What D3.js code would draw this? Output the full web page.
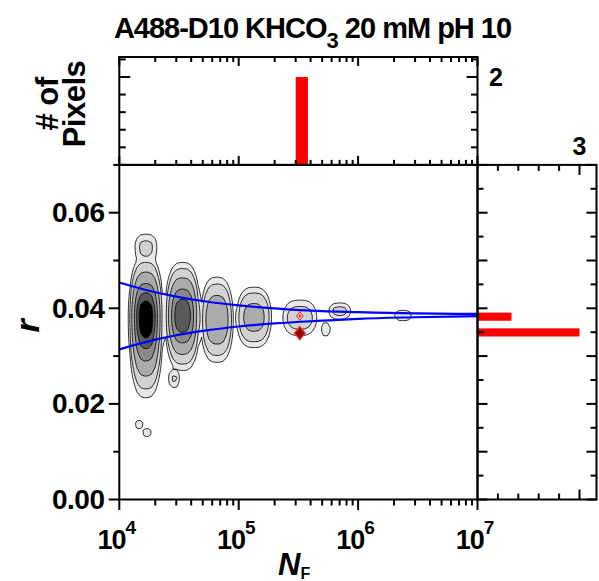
<!DOCTYPE html>
<html><head><meta charset="utf-8">
<script src="https://cdn.jsdelivr.net/npm/d3@7"></script>
<style>
body{margin:0;background:#fff}
svg{display:block}
text{font-family:"Liberation Sans",Arial,sans-serif;font-weight:bold;fill:#000}
</style>
</head><body>
<svg id="c" width="599" height="581"></svg>
<script>
// ---------------- data ----------------
const titleMain = "A488-D10 KHCO";
const titleSub = "3";
const titleRest = " 20 mM pH 10";
const xMajorTicks = [1e4, 1e5, 1e6, 1e7];
const xMajorExp = ["4", "5", "6", "7"];
const yMajorTicks = [0, 0.02, 0.04, 0.06];
const yMajorLabels = ["0.00", "0.02", "0.04", "0.06"];

// density components of the 2D histogram (log10 NF, r, half width in decades, half height up / down, peak level)
const compLogNF   = [4.223, 4.223, 4.530, 4.459, 4.818, 5.128, 5.512, 5.729, 5.846, 6.377, 4.167, 4.234];
const compR       = [0.0382, 0.0529, 0.0385, 0.0253, 0.0376, 0.0381, 0.0380, 0.0356, 0.0394, 0.0385, 0.0157, 0.0140];
const compHalfW   = [0.145, 0.092, 0.148, 0.046, 0.136, 0.146, 0.142, 0.040, 0.092, 0.071, 0.036, 0.036];
const compHalfUp  = [0.0128, 0.0026, 0.0111, 0.0019, 0.0089, 0.0063, 0.0037, 0.0014, 0.0017, 0.00110, 0.00090, 0.00090];
const compHalfDn  = [0.0169, 0.0042, 0.0115, 0.0019, 0.0089, 0.0063, 0.0037, 0.0014, 0.0017, 0.00110, 0.00090, 0.00090];
const compPeak    = [7.2, 1.7, 6.3, 1.6, 3.9, 3.2, 2.0, 1.3, 1.8, 1.3, 1.4, 1.4];
const levels      = [1, 1.5, 2.5, 4, 5.3, 6.3];
const levelColors = ["#e8e8e8", "#d2d2d2", "#ababab", "#8a8a8a", "#5a5a5a", "#000000"];

// selected pixels (red)
const selLogNF = [5.512, 5.512];
const selR     = [0.0384, 0.0348];
const selCount = [1, 3];
const selLevels = [0.5, 0.9, 1.6, 2.3];
const selColors = ["#f2a0a0", "#8b0000", "#6e0000", "#4a0000"];

// shot-noise bounds (blue)
const boundNF = [1e4, 2e4, 3e4, 5e4, 1e5, 2e5, 5e5, 1e6, 3e6, 1e7];
const upperR  = [0.04540, 0.04335, 0.04244, 0.04153, 0.04061, 0.03997, 0.03939, 0.03920, 0.03893, 0.03882];
const lowerR  = [0.03140, 0.03345, 0.03436, 0.03527, 0.03619, 0.03683, 0.03741, 0.03780, 0.03813, 0.03838];

// histograms
const topBinLo = [3.0e5];
const topBinHi = [3.8e5];
const topCount = [2];
const rightBinLo = [0.0374, 0.0341];
const rightBinHi = [0.0391, 0.0358];
const rightCount = [1, 3];

// ---------------- layout ----------------
const svg = d3.select("#c");
const X0 = 119.3, X1 = 477.5, Y0 = 499.5, YT = 164.9, TOP0 = 57, XR1 = 596.5;
const x = d3.scaleLog().domain([1e4, 1e7]).range([X0, X1]);
const y = d3.scaleLinear().domain([0, 0.07]).range([Y0, YT]);
const yTop = d3.scaleLinear().domain([0, 2.455]).range([YT, TOP0]);
const xR = d3.scaleLinear().domain([0, 3.5]).range([X1, XR1]);

const defs = svg.append("defs");
defs.append("clipPath").attr("id", "clipMain").append("rect")
  .attr("x", X0).attr("y", YT).attr("width", X1 - X0).attr("height", Y0 - YT);

// ---------------- density contours ----------------
const uMin = 3.97, du = 0.03, nx = 103, rMin = 0, dr = 0.0008, ny = 90;
const grid = new Float64Array(nx * ny);
for (let j = 0; j < ny; j++) {
  const r = rMin + j * dr;
  for (let i = 0; i < nx; i++) {
    const u = uMin + i * du;
    let v = 0;
    for (let k = 0; k < compLogNF.length; k++) {
      const a = Math.abs(u - compLogNF[k]) / compHalfW[k];
      const dd = r - compR[k];
      const b = dd / (dd > 0 ? compHalfUp[k] : compHalfDn[k]);
      const rho2 = a * a * a + b * b;
      const val = Math.exp(Math.log(compPeak[k]) * (1 - rho2));
      if (val > v) v = val;
    }
    grid[j * nx + i] = v;
  }
}
const projMain = d3.geoTransform({
  point(px, py) { this.stream.point(x(Math.pow(10, uMin + (px - 0.5) * du)), y(rMin + (py - 0.5) * dr)); }
});
const pathMain = d3.geoPath(projMain);
const contours = d3.contours().size([nx, ny]).thresholds(levels)(grid);
const gMain = svg.append("g").attr("clip-path", "url(#clipMain)");
gMain.selectAll("path.ct").data(contours).join("path")
  .attr("class", "ct")
  .attr("d", pathMain)
  .attr("fill", (d, i) => levelColors[i])
  .attr("stroke", "#000").attr("stroke-width", 0.8).attr("stroke-linejoin", "round");

// ---------------- selected (red) contours ----------------
const sdu = 0.058, sdr = 0.0018, snx = 9, sny = 11;
const su0 = 5.512 - 4 * sdu, sr0 = 0.0348 - 4 * sdr;
const sgrid = new Float64Array(snx * sny);
for (let k = 0; k < selCount.length; k++) {
  const i = Math.round((selLogNF[k] - su0) / sdu);
  const j = Math.round((selR[k] - sr0) / sdr);
  sgrid[j * snx + i] += selCount[k];
}
const projSel = d3.geoTransform({
  point(px, py) { this.stream.point(x(Math.pow(10, su0 + (px - 0.5) * sdu)), y(sr0 + (py - 0.5) * sdr)); }
});
const selContours = d3.contours().size([snx, sny]).thresholds(selLevels)(sgrid);
gMain.selectAll("path.sel").data(selContours).join("path")
  .attr("class", "sel")
  .attr("d", d3.geoPath(projSel))
  .attr("fill", (d, i) => selColors[i])
  .attr("stroke", "#e01010").attr("stroke-width", 0.7);

// ---------------- blue bounds ----------------
const line = d3.line().x(d => x(d[0])).y(d => y(d[1])).curve(d3.curveMonotoneX);
[upperR, lowerR].forEach(arr => {
  gMain.append("path")
    .attr("d", line(boundNF.map((n, i) => [n, arr[i]])))
    .attr("fill", "none").attr("stroke", "#0000ff").attr("stroke-width", 2.2);
});

// ---------------- histograms ----------------
svg.selectAll("rect.th").data(topCount).join("rect").attr("class", "th")
  .attr("x", (d, i) => x(topBinLo[i])).attr("width", (d, i) => x(topBinHi[i]) - x(topBinLo[i]))
  .attr("y", d => yTop(d)).attr("height", d => yTop(0) - yTop(d))
  .attr("fill", "#ff0000");
svg.selectAll("rect.rh").data(rightCount).join("rect").attr("class", "rh")
  .attr("y", (d, i) => y(rightBinHi[i])).attr("height", (d, i) => y(rightBinLo[i]) - y(rightBinHi[i]))
  .attr("x", xR(0)).attr("width", d => xR(d) - xR(0))
  .attr("fill", "#ff0000");

// ---------------- frames & ticks ----------------
const ax = svg.append("g").attr("stroke", "#000").attr("stroke-width", 2).attr("fill", "none");
ax.append("rect").attr("x", X0).attr("y", YT).attr("width", X1 - X0).attr("height", Y0 - YT);
ax.append("rect").attr("x", X0).attr("y", TOP0).attr("width", X1 - X0).attr("height", YT - TOP0);
ax.append("rect").attr("x", X1).attr("y", YT).attr("width", XR1 - X1).attr("height", Y0 - YT);

function tick(x1, y1, x2, y2) {
  ax.append("line").attr("x1", x1).attr("y1", y1).attr("x2", x2).attr("y2", y2);
}
const isMajorX = v => xMajorTicks.some(m => Math.abs(Math.log10(v) - Math.log10(m)) < 1e-6);
x.ticks().forEach(v => {
  const px = x(v), maj = isMajorX(v);
  tick(px, Y0, px, Y0 + (maj ? 10.5 : 6));
  tick(px, TOP0, px, TOP0 + (maj ? 9 : 5));
  tick(px, YT, px, YT - (maj ? 9 : 5));
});
d3.range(0, 8).forEach(k => {
  const py = y(k * 0.01), maj = k % 2 === 0;
  tick(X0, py, X0 - (maj ? 10.5 : 6), py);
});
d3.range(0, 15).forEach(k => {
  const py = y(k * 0.005), maj = k % 2 === 0;
  tick(X1, py, X1 + (maj ? 10 : 6), py);
  tick(XR1, py, XR1 - (maj ? 10 : 6), py);
});
d3.range(1, 6).forEach(k => {
  const px = xR(k * 0.6), maj = k === 5;
  tick(px, Y0, px, Y0 - (maj ? 10 : 6));
  tick(px, YT, px, YT + (maj ? 10 : 6));
});
d3.range(0, 7).forEach(k => {
  const py = yTop(k * 0.4), maj = k === 5;
  if (py < TOP0) return;
  tick(X0, py, X0 + (maj ? 11 : 6.5), py);
  tick(X1, py, X1 - (maj ? 11 : 6.5), py);
});

// ---------------- text ----------------
const title = svg.append("text").attr("x", 312.5).attr("y", 38).attr("text-anchor", "middle")
  .style("font-size", "29px").style("letter-spacing", "-1px");
title.append("tspan").text(titleMain);
title.append("tspan").text(titleSub).style("font-size", "22px").attr("dy", 10);
title.append("tspan").text(titleRest).attr("dy", -10);

xMajorTicks.forEach((v, i) => {
  const t = svg.append("text").attr("x", x(v) - 3).attr("y", 548.6).attr("text-anchor", "middle")
    .style("font-size", "27px").style("letter-spacing", "-1px");
  t.append("tspan").text("10");
  t.append("tspan").text(xMajorExp[i]).style("font-size", "19px").attr("dy", -15);
});
yMajorTicks.forEach((v, i) => {
  svg.append("text").attr("x", 104.5).attr("y", y(v) + 9.5).attr("text-anchor", "end")
    .style("font-size", "28px").style("letter-spacing", "-0.5px").text(yMajorLabels[i]);
});

svg.append("text").attr("x", 489).attr("y", yTop(2) + 9).style("font-size", "25px").text("2");
svg.append("text").attr("x", xR(3)).attr("y", 155).attr("text-anchor", "middle").style("font-size", "25px").text("3");

svg.append("text").attr("transform", "translate(38.5,326) rotate(-90)").attr("text-anchor", "middle")
  .style("font-size", "34px").style("font-style", "italic").text("r");
const nf = svg.append("text").attr("x", 278).attr("y", 575);
nf.append("tspan").text("N").style("font-size", "31px").style("font-style", "italic");
nf.append("tspan").text("F").style("font-size", "16px").attr("dy", 4);

svg.append("text").attr("transform", "translate(58,104) rotate(-90)").attr("text-anchor", "middle")
  .style("font-size", "31px").style("letter-spacing", "-0.5px").text("# of");
svg.append("text").attr("transform", "translate(84.5,104) rotate(-90)").attr("text-anchor", "middle")
  .style("font-size", "31px").style("letter-spacing", "-0.5px").text("Pixels");
</script>
</body></html>
